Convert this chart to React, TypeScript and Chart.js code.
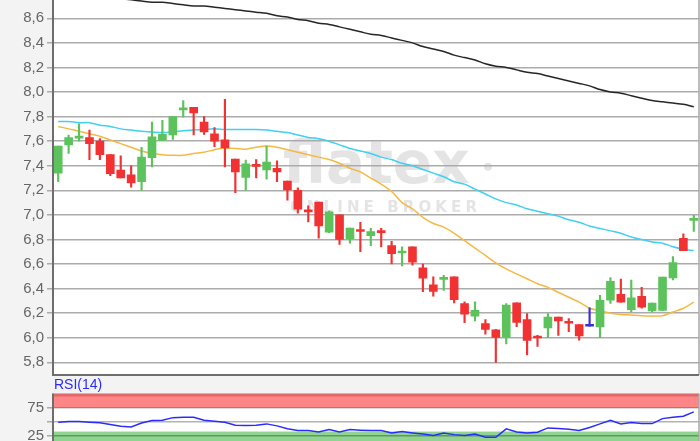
import React, { useEffect, useRef } from 'react';
import { Chart, registerables } from 'chart.js';

Chart.register(...registerables);

// ---- price data (OHLC per session) ----
const OPEN = [7.34, 7.57, 7.625, 7.63, 7.60, 7.49, 7.365, 7.325, 7.27, 7.465, 7.605, 7.65, 7.855, 7.875, 7.755, 7.66, 7.61, 7.455, 7.305, 7.40, 7.365, 7.378, 7.276, 7.20, 7.03, 7.105, 6.86, 7.00, 6.805, 6.87, 6.83, 6.87, 6.75, 6.69, 6.74, 6.57, 6.43, 6.475, 6.495, 6.278, 6.176, 6.116, 6.065, 6.005, 6.284, 6.149, 6.003, 6.08, 6.169, 6.123, 6.108, 6.094, 6.088, 6.305, 6.353, 6.229, 6.337, 6.218, 6.223, 6.488, 6.809, 6.955];
const HIGH = [7.56, 7.65, 7.74, 7.69, 7.62, 7.49, 7.48, 7.40, 7.55, 7.755, 7.77, 7.80, 7.93, 7.875, 7.80, 7.71, 7.94, 7.455, 7.445, 7.45, 7.56, 7.44, 7.276, 7.22, 7.073, 7.105, 7.03, 7.00, 6.893, 6.94, 6.89, 6.89, 6.785, 6.74, 6.74, 6.60, 6.495, 6.508, 6.495, 6.292, 6.292, 6.149, 6.068, 6.278, 6.284, 6.197, 6.02, 6.197, 6.169, 6.156, 6.108, 6.243, 6.345, 6.49, 6.478, 6.47, 6.41, 6.283, 6.493, 6.66, 6.845, 6.998];
const LOW = [7.27, 7.50, 7.60, 7.45, 7.45, 7.32, 7.30, 7.225, 7.20, 7.39, 7.605, 7.615, 7.795, 7.65, 7.655, 7.555, 7.39, 7.18, 7.20, 7.30, 7.29, 7.27, 7.12, 7.014, 6.943, 6.81, 6.855, 6.76, 6.77, 6.70, 6.75, 6.74, 6.60, 6.585, 6.59, 6.375, 6.338, 6.386, 6.284, 6.122, 6.138, 6.03, 5.80, 5.95, 6.09, 5.86, 5.93, 6.0, 6.02, 6.05, 5.98, 6.094, 6.0, 6.28, 6.29, 6.21, 6.24, 6.21, 6.223, 6.47, 6.709, 6.865];
const CLOSE = [7.56, 7.63, 7.635, 7.58, 7.49, 7.335, 7.30, 7.26, 7.47, 7.635, 7.655, 7.80, 7.86, 7.83, 7.675, 7.60, 7.545, 7.35, 7.415, 7.395, 7.43, 7.35, 7.203, 7.046, 7.025, 6.911, 7.025, 6.80, 6.893, 6.865, 6.865, 6.855, 6.685, 6.70, 6.615, 6.485, 6.378, 6.482, 6.311, 6.192, 6.224, 6.068, 6.003, 6.265, 6.125, 5.978, 5.998, 6.169, 6.137, 6.118, 6.015, 6.094, 6.305, 6.46, 6.29, 6.326, 6.25, 6.283, 6.493, 6.612, 6.709, 6.962];

// ---- moving averages ----
const MA_LONG = [8.80, 8.79, 8.79, 8.78, 8.77, 8.77, 8.76, 8.75, 8.74, 8.73, 8.73, 8.72, 8.71, 8.70, 8.70, 8.69, 8.68, 8.67, 8.66, 8.65, 8.64, 8.62, 8.61, 8.59, 8.58, 8.56, 8.55, 8.53, 8.51, 8.49, 8.47, 8.46, 8.44, 8.42, 8.40, 8.37, 8.35, 8.33, 8.30, 8.28, 8.26, 8.23, 8.21, 8.20, 8.18, 8.16, 8.15, 8.13, 8.11, 8.09, 8.07, 8.05, 8.02, 8.00, 7.99, 7.97, 7.95, 7.93, 7.92, 7.91, 7.90, 7.88];
const MA_MID = [7.76, 7.76, 7.75, 7.75, 7.73, 7.72, 7.70, 7.69, 7.68, 7.675, 7.67, 7.675, 7.685, 7.69, 7.695, 7.70, 7.695, 7.695, 7.695, 7.695, 7.69, 7.68, 7.67, 7.65, 7.63, 7.62, 7.60, 7.57, 7.54, 7.52, 7.50, 7.47, 7.45, 7.42, 7.40, 7.37, 7.34, 7.31, 7.27, 7.25, 7.21, 7.17, 7.13, 7.10, 7.08, 7.05, 7.03, 7.01, 6.99, 6.96, 6.94, 6.91, 6.89, 6.87, 6.85, 6.82, 6.80, 6.78, 6.77, 6.74, 6.72, 6.71];
const MA_SHORT = [7.72, 7.70, 7.68, 7.66, 7.64, 7.61, 7.58, 7.55, 7.52, 7.50, 7.49, 7.485, 7.485, 7.50, 7.51, 7.53, 7.545, 7.54, 7.535, 7.55, 7.56, 7.55, 7.53, 7.51, 7.49, 7.47, 7.45, 7.42, 7.38, 7.35, 7.30, 7.25, 7.19, 7.10, 7.05, 6.98, 6.93, 6.90, 6.85, 6.79, 6.73, 6.67, 6.61, 6.56, 6.52, 6.48, 6.44, 6.41, 6.37, 6.33, 6.29, 6.24, 6.22, 6.20, 6.19, 6.185, 6.18, 6.177, 6.18, 6.21, 6.24, 6.29];

// ---- RSI(14) ----
const RSI = [49.3, 50.5, 50.5, 49.5, 48.3, 45.5, 42.3, 41.2, 48, 52.5, 53, 57.5, 58, 58, 52.8, 51, 49.3, 44, 43.5, 44, 46.5, 43, 38, 34.7, 34.7, 32.4, 36.4, 32.4, 36.4, 35.5, 35, 34.7, 30.6, 33, 30.6, 28.5, 25.9, 30.6, 27.6, 25.9, 28.5, 23, 22.9, 37.7, 32.4, 30.6, 31.7, 39.4, 38.3, 37, 34.7, 40, 46.5, 52.8, 46.5, 49, 47, 47, 55.8, 58, 60, 67.6];
const RSI_TICKS = [25, 50, 75];
const RSI_UPPER_BAND = [75, 100];
const RSI_LOWER_BAND = [0, 33];

// ---- axis settings ----
const PRICE_MIN = 5.697;
const PRICE_MAX = 8.8;
const PRICE_STEP = 0.2;
const LABELS = OPEN.map((_, i) => String(i + 1));

const UP = '#5cc35c';
const DOWN = '#f23232';
const FLAT = '#3b2fd6';
const FONT = '"Liberation Sans", Arial, sans-serif';

const candleColors = OPEN.map((o, i) => (CLOSE[i] > o ? UP : CLOSE[i] < o ? DOWN : FLAT));

const mainDecor = {
  id: 'mainDecor',
  beforeDraw(chart: any) {
    const { ctx, chartArea: a } = chart;
    ctx.save();
    ctx.fillStyle = '#ffffff';
    ctx.fillRect(a.left, a.top, a.right - a.left, a.bottom - a.top);
    // watermark
    ctx.fillStyle = '#e4e4e4';
    ctx.font = 'bold 58px "DejaVu Sans"';
    ctx.textBaseline = 'alphabetic';
    ctx.textAlign = 'left';
    const wx = a.left + 230;
    const wy = a.top + 189;
    ctx.fillText('flatex', wx, wy);
    ctx.beginPath();
    ctx.arc(a.left + 435, a.top + 173, 4, 0, Math.PI * 2);
    ctx.fill();
    ctx.font = 'bold 15px "DejaVu Sans"';
    const sub = 'ONLINE BROKER';
    const total = 187;
    let w = 0;
    for (const ch of sub) w += ctx.measureText(ch).width;
    const gap = (total - w) / (sub.length - 1);
    let x = a.left + 237;
    for (const ch of sub) {
      ctx.fillText(ch, x, a.top + 218);
      x += ctx.measureText(ch).width + gap;
    }
    ctx.restore();
  },
  afterDraw(chart: any) {
    const { ctx, chartArea: a } = chart;
    ctx.save();
    ctx.strokeStyle = '#a8a8a8';
    ctx.lineWidth = 1.5;
    ctx.beginPath();
    ctx.moveTo(a.right, a.top);
    ctx.lineTo(a.right, a.bottom);
    ctx.stroke();
    ctx.strokeStyle = '#6e6e6e';
    ctx.lineWidth = 2;
    ctx.beginPath();
    ctx.moveTo(a.left, a.top);
    ctx.lineTo(a.left, a.bottom);
    ctx.lineTo(a.right, a.bottom);
    ctx.stroke();
    ctx.restore();
  },
};

const rsiDecor = {
  id: 'rsiDecor',
  beforeDraw(chart: any) {
    const { ctx, chartArea: a, scales } = chart;
    const y = scales.y;
    ctx.save();
    ctx.fillStyle = '#ffffff';
    ctx.fillRect(a.left, a.top, a.right - a.left, a.bottom - a.top);
    const up0 = y.getPixelForValue(RSI_UPPER_BAND[1]);
    const up1 = y.getPixelForValue(RSI_UPPER_BAND[0]);
    ctx.fillStyle = '#ff8686';
    ctx.fillRect(a.left, up0, a.right - a.left, up1 - up0);
    const lo0 = y.getPixelForValue(RSI_LOWER_BAND[1]);
    const lo1 = y.getPixelForValue(RSI_LOWER_BAND[0]);
    ctx.fillStyle = '#8fd48f';
    ctx.fillRect(a.left, lo0, a.right - a.left, lo1 - lo0);
    ctx.restore();
  },
  afterDraw(chart: any) {
    const { ctx, chartArea: a } = chart;
    ctx.save();
    ctx.strokeStyle = 'rgba(120,0,0,0.22)';
    ctx.lineWidth = 3;
    ctx.beginPath();
    ctx.moveTo(a.left, a.top + 1.5);
    ctx.lineTo(a.right, a.top + 1.5);
    ctx.stroke();
    ctx.strokeStyle = '#a8a8a8';
    ctx.lineWidth = 1.5;
    ctx.beginPath();
    ctx.moveTo(a.right, a.top);
    ctx.lineTo(a.right, a.bottom);
    ctx.stroke();
    ctx.strokeStyle = '#6e6e6e';
    ctx.lineWidth = 2;
    ctx.beginPath();
    ctx.moveTo(a.left, a.top);
    ctx.lineTo(a.left, a.bottom);
    ctx.stroke();
    ctx.fillStyle = '#2b2bff';
    ctx.font = `14px ${FONT}`;
    ctx.textBaseline = 'middle';
    ctx.textAlign = 'left';
    ctx.fillText('RSI(14)', a.left + 1, a.top - 8);
    ctx.restore();
  },
};

export default function App() {
  const mainRef = useRef<HTMLCanvasElement | null>(null);
  const rsiRef = useRef<HTMLCanvasElement | null>(null);

  useEffect(() => {
    const tickFont = { family: FONT, size: 15 };
    const main = new Chart(mainRef.current as HTMLCanvasElement, {
      type: 'bar',
      data: {
        labels: LABELS,
        datasets: [
          {
            type: 'bar',
            label: 'body',
            data: OPEN.map((o, i) => [o, CLOSE[i]]) as any,
            backgroundColor: candleColors,
            borderWidth: 0,
            barThickness: 8,
            minBarLength: 2,
            grouped: false,
            order: 0,
          } as any,
          {
            type: 'bar',
            label: 'wick',
            data: LOW.map((l, i) => [l, HIGH[i]]) as any,
            backgroundColor: candleColors,
            borderWidth: 0,
            barThickness: 1.5,
            grouped: false,
            order: 1,
          } as any,
          {
            type: 'line',
            label: 'MA long',
            data: MA_LONG,
            borderColor: '#262626',
            borderWidth: 1.5,
            pointRadius: 0,
            tension: 0.3,
            order: 2,
          } as any,
          {
            type: 'line',
            label: 'MA mid',
            data: MA_MID,
            borderColor: '#3fd0f2',
            borderWidth: 1.5,
            pointRadius: 0,
            tension: 0.3,
            order: 2,
          } as any,
          {
            type: 'line',
            label: 'MA short',
            data: MA_SHORT,
            borderColor: '#f7b843',
            borderWidth: 1.5,
            pointRadius: 0,
            tension: 0.3,
            order: 2,
          } as any,
        ],
      },
      options: {
        animation: false,
        responsive: false,
        maintainAspectRatio: false,
        layout: { padding: { left: 0, right: 1, top: 13.7, bottom: 25 } },
        plugins: { legend: { display: false }, tooltip: { enabled: false } },
        scales: {
          x: { display: false, offset: true },
          y: {
            min: PRICE_MIN,
            max: PRICE_MAX,
            afterFit: (s: any) => { s.width = 53; },
            ticks: {
              stepSize: PRICE_STEP,
              includeBounds: false,
              color: '#666666',
              font: tickFont,
              padding: 3,
              callback: (v: any) => Number(v).toFixed(1).replace('.', ','),
            },
            grid: { color: '#ababab', lineWidth: 1.5, tickLength: 6 },
            border: { display: false },
          },
        },
      } as any,
      plugins: [mainDecor],
    });

    const rsi = new Chart(rsiRef.current as HTMLCanvasElement, {
      type: 'line',
      data: {
        labels: LABELS,
        datasets: [
          {
            label: 'RSI(14)',
            data: RSI,
            borderColor: '#2b2bff',
            borderWidth: 1.5,
            pointRadius: 0,
            tension: 0,
          },
        ],
      },
      options: {
        animation: false,
        responsive: false,
        maintainAspectRatio: false,
        layout: { padding: { left: 0, right: 1, top: 17.5, bottom: 15.7 } },
        plugins: { legend: { display: false }, tooltip: { enabled: false } },
        scales: {
          x: { display: false, offset: true },
          y: {
            min: 0,
            max: 100,
            afterFit: (s: any) => { s.width = 53; },
            afterBuildTicks: (s: any) => { s.ticks = RSI_TICKS.map((v) => ({ value: v })); },
            ticks: {
              color: '#666666',
              font: tickFont,
              padding: 3,
              callback: (v: any) => (Number(v) === 50 ? '' : String(v)),
            },
            grid: { color: 'rgba(0,0,0,0.3)', lineWidth: 1.5, tickLength: 6 },
            border: { display: false },
          },
        },
      } as any,
      plugins: [rsiDecor],
    });

    return () => {
      main.destroy();
      rsi.destroy();
    };
  }, []);

  return (
    <div
      style={{
        position: 'fixed',
        left: 0,
        top: 0,
        width: 700,
        height: 441,
        overflow: 'hidden',
        background: '#f3f3f3',
      }}
    >
      <canvas
        ref={mainRef}
        width={700}
        height={420}
        style={{ position: 'absolute', left: 0, top: -20, width: 700, height: 420 }}
      />
      <canvas
        ref={rsiRef}
        width={700}
        height={90}
        style={{ position: 'absolute', left: 0, top: 376, width: 700, height: 90 }}
      />
    </div>
  );
}
